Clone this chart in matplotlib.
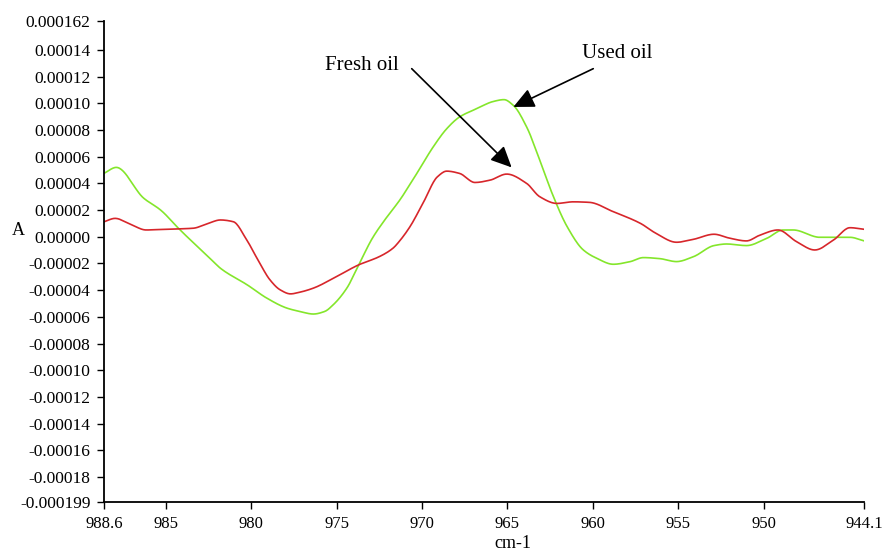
import matplotlib
matplotlib.use("Agg")
import matplotlib.pyplot as plt
import numpy as np

# Wavenumber (cm-1) and absorbance (x1e-5) for the used-oil spectrum
used_x = [988.6, 987.9, 986.3, 985.3, 984.2, 982.2, 981.8, 980.2, 979.07, 977.9,
          977.15, 976.36, 975.7, 975.2, 974.4, 973.7, 972.9, 972.1, 971.3, 970.3,
          969.34, 968.55, 967.8, 966.8, 965.8, 965.2, 964.65, 963.87, 963.1, 962.3,
          961.5, 960.55, 959.77, 958.8, 957.8, 957.04, 956.06, 955.1, 954.1, 952.9,
          952.16, 951.0, 949.8, 948.85, 948.26, 946.7, 944.94, 944.1]
used_y = [4.77, 5.20, 2.90, 2.00, 0.56, -1.88, -2.36, -3.63, -4.61, -5.35,
          -5.60, -5.79, -5.60, -5.10, -3.85, -2.10, -0.10, 1.40, 2.75, 4.75,
          6.74, 8.10, 8.98, 9.60, 10.15, 10.28, 9.85, 8.23, 5.74, 3.00,
          0.76, -0.99, -1.61, -2.06, -1.86, -1.56, -1.64, -1.86, -1.49, -0.66,
          -0.54, -0.66, -0.11, 0.51, 0.51, -0.04, -0.04, -0.31]

# Wavenumber (cm-1) and absorbance (x1e-5) for the fresh-oil spectrum
fresh_x = [988.6, 987.97, 987.1, 986.15, 985.15, 983.4, 982.6, 981.8, 981.05, 980.26,
           979.5, 978.9, 978.3, 977.7, 977.14, 976.36, 975.0, 973.7, 972.5, 971.7,
           971.3, 970.7, 969.9, 969.1, 968.55, 967.8, 966.9, 966.0, 965.04, 963.87,
           963.1, 962.1, 961.14, 960.2, 958.8, 957.2, 956.3, 955.1, 954.1, 952.9,
           951.97, 951.0, 950.2, 949.15, 948.06, 947.0, 945.9, 944.94, 944.1]
fresh_y = [1.13, 1.38, 0.96, 0.51, 0.56, 0.64, 0.96, 1.26, 1.13, -0.24,
           -1.98, -3.23, -3.98, -4.28, -4.15, -3.85, -2.98, -2.10, -1.49, -0.86,
           -0.30, 0.76, 2.62, 4.49, 4.92, 4.75, 4.07, 4.25, 4.70, 4.00,
           3.00, 2.50, 2.62, 2.58, 1.88, 1.00, 0.26, -0.41, -0.19, 0.19,
           -0.11, -0.31, 0.13, 0.51, -0.37, -0.99, -0.24, 0.68, 0.56]

x_ticks = [988.6, 985, 980, 975, 970, 965, 960, 955, 950, 944.1]
x_tick_labels = ["988.6", "985", "980", "975", "970", "965", "960", "955", "950", "944.1"]
y_steps = list(range(14, -19, -2))
y_ticks = [0.000162] + [v * 1e-5 for v in y_steps] + [-0.000199]
y_tick_labels = (["0.000162"]
                 + [("-" if v < 0 else "") + f"{abs(v) * 1e-5:.5f}" for v in y_steps]
                 + ["-0.000199"])


def smooth(xs, ys, n=800):
    """Monotone cubic Hermite interpolation for a smooth spectral trace."""
    xs = np.asarray(xs, float)[::-1]
    ys = np.asarray(ys, float)[::-1]
    h = np.diff(xs)
    d = np.diff(ys) / h
    m = np.zeros_like(ys)
    m[0], m[-1] = d[0], d[-1]
    for i in range(1, len(ys) - 1):
        if d[i - 1] * d[i] <= 0:
            m[i] = 0.0
        else:
            w1 = 2 * h[i] + h[i - 1]
            w2 = h[i] + 2 * h[i - 1]
            m[i] = (w1 + w2) / (w1 / d[i - 1] + w2 / d[i])
    xf = np.linspace(xs[0], xs[-1], n)
    idx = np.clip(np.searchsorted(xs, xf) - 1, 0, len(xs) - 2)
    t = (xf - xs[idx]) / h[idx]
    h00 = 2 * t**3 - 3 * t**2 + 1
    h10 = t**3 - 2 * t**2 + t
    h01 = -2 * t**3 + 3 * t**2
    h11 = t**3 - t**2
    yf = h00 * ys[idx] + h10 * h[idx] * m[idx] + h01 * ys[idx + 1] + h11 * h[idx] * m[idx + 1]
    return xf, yf


plt.rcParams["font.family"] = ["Liberation Serif", "DejaVu Serif"]

fig = plt.figure(figsize=(8.84, 5.55), dpi=100)
ax = fig.add_axes([0.118, 0.095, 0.8597, 0.8678])

ux, uy = smooth(used_x, used_y)
fx, fy = smooth(fresh_x, fresh_y)
ax.plot(ux, uy * 1e-5, color="#84E62B", lw=1.2)
ax.plot(fx, fy * 1e-5, color="#D7262B", lw=1.2)

ax.set_xlim(988.6, 944.1)
ax.set_ylim(-0.000199, 0.000162)
ax.set_xticks(x_ticks)
ax.set_xticklabels(x_tick_labels)
ax.set_yticks(y_ticks)
ax.set_yticklabels(y_tick_labels)
ax.tick_params(direction="out", length=5, width=1, labelsize=12, colors="black", pad=5)
ax.tick_params(axis="y", labelsize=12.5)

for side in ("top", "right"):
    ax.spines[side].set_visible(False)
for side in ("left", "bottom"):
    ax.spines[side].set_linewidth(1.3)

ax.set_xlabel("cm-1", fontsize=13)
ax.xaxis.set_label_coords(0.538, -0.068)
ax.set_ylabel("A", fontsize=13, rotation=0)
ax.yaxis.set_label_coords(-0.1136, 0.547)

arrow = dict(arrowstyle="-|>,head_length=0.85,head_width=0.4", color="black", lw=1.2,
             shrinkA=0, shrinkB=0, mutation_scale=15)
ax.text(971.35, 12.84e-5, "Fresh oil", fontsize=15, ha="right", va="center")
ax.annotate("", xy=(964.75, 5.2e-5), xytext=(970.6, 12.6e-5), arrowprops=arrow)
ax.text(960.65, 13.72e-5, "Used oil", fontsize=15, ha="left", va="center")
ax.annotate("", xy=(964.65, 9.73e-5), xytext=(959.97, 12.6e-5), arrowprops=arrow)

fig.savefig("out.png", dpi=100)
